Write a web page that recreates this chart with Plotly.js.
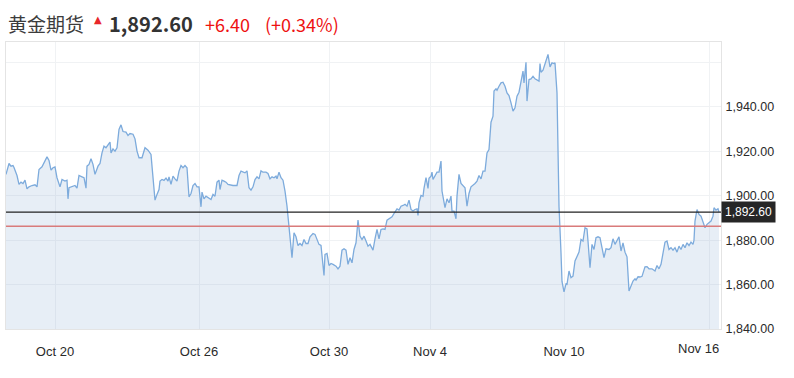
<!DOCTYPE html>
<html><head><meta charset="utf-8">
<script src="https://cdn.plot.ly/plotly-3.0.1.min.js"></script>
<style>html,body{margin:0;padding:0;background:#fff;}#chart{width:794px;height:378px;}</style>
</head><body><div id="chart"></div>
<script>
// time index of each sample (intraday bars, weekends removed)
const tIdx = [0,3,5,7,8,11,13,15,17,19,21,23,26,29,31,33,36,39,41,43,45,47,49,51,54,56,59,61,62,63,66,69,71,73,76,78,80,81,83,85,87,89,92,94,96,98,100,102,104,105,107,109,111,113,115,117,120,122,124,127,129,131,133,136,139,142,145,146,148,149,151,153,154,156,158,160,162,163,165,167,169,171,173,175,177,179,181,182,183,185,187,189,191,193,195,196,198,200,202,205,207,209,211,213,214,216,218,220,222,225,227,231,233,235,237,239,241,243,245,247,249,251,253,255,257,260,262,264,266,268,270,271,273,275,277,279,281,283,285,286,288,290,292,294,296,298,300,302,304,307,309,311,313,315,317,318,319,321,323,325,327,330,332,334,336,338,340,342,344,346,348,350,352,354,356,358,360,362,364,367,369,371,373,375,377,379,381,383,386,388,391,393,395,397,399,401,403,405,407,409,411,412,413,415,417,418,420,422,423,425,426,427,429,431,433,435,436,437,439,441,443,445,446,448,450,451,453,455,457,459,461,463,465,467,469,471,473,475,476,477,479,481,483,484,485,487,488,490,491,493,495,497,499,501,503,505,507,509,511,513,515,517,518,520,521,523,525,527,529,531,533,534,535,537,539,541,542,544,546,548,549,551,552,553,555,556,558,560,561,563,565,567,569,571,573,575,577,579,581,582,584,586,588,590,592,594,596,598,600,603,605,607,609,611,613,615,617,619,621,623,625,627,629,630,632,634,636,639,641,643,646,649,651,653,655,657,659,661,663,665,667,669,671,673,675,677,679,681,683,685,687,688,689,691,693,695,697,699,701,703,705,707,708,710,712,713];
const price = [1909.6,1914.5,1913.3,1913.6,1912.7,1909.1,1905.1,1906.1,1905.5,1907.0,1903.1,1904.0,1904.6,1904.9,1904.0,1911.8,1913.0,1915.6,1917.5,1915.9,1911.5,1912.6,1913.0,1908.1,1904.0,1907.3,1906.6,1907.0,1898.6,1903.6,1904.0,1904.6,1903.4,1909.1,1908.5,1908.1,1903.4,1913.3,1914.1,1916.6,1914.1,1909.6,1913.3,1914.5,1919.3,1922.3,1921.6,1922.6,1924.1,1919.3,1921.1,1920.1,1921.6,1929.8,1931.9,1928.9,1928.6,1927.1,1928.0,1927.7,1925.6,1920.1,1917.1,1917.1,1921.6,1920.5,1918.6,1913.3,1902.8,1898.0,1900.6,1902.8,1906.6,1907.3,1906.9,1907.9,1906.6,1908.5,1905.1,1908.8,1907.6,1906.6,1911.1,1913.6,1912.6,1913.6,1912.6,1904.3,1899.5,1901.0,1904.6,1905.5,1904.0,1904.0,1895.0,1901.6,1898.6,1899.8,1899.1,1898.3,1900.6,1899.8,1906.1,1907.0,1902.8,1907.0,1906.6,1906.1,1905.1,1904.6,1904.6,1904.6,1909.1,1911.1,1910.6,1910.3,1911.2,1903.6,1902.5,1904.0,1907.3,1908.5,1907.6,1911.2,1910.6,1910.6,1910.0,1907.6,1908.5,1908.1,1908.8,1907.6,1910.6,1908.1,1907.0,1902.1,1895.3,1886.6,1878.1,1872.1,1883.3,1881.5,1877.6,1878.5,1877.6,1880.3,1878.5,1878.5,1881.5,1883.0,1882.6,1880.3,1878.1,1877.6,1870.1,1864.1,1873.6,1874.0,1868.6,1869.5,1869.1,1868.3,1867.1,1868.3,1875.5,1876.1,1875.5,1869.1,1872.1,1869.8,1875.8,1878.8,1889.0,1881.8,1880.3,1881.8,1879.6,1877.3,1878.1,1875.5,1880.6,1884.8,1880.6,1884.8,1885.1,1884.8,1889.0,1889.6,1890.5,1892.0,1894.1,1893.5,1895.3,1895.6,1896.1,1895.3,1898.0,1893.8,1893.1,1893.8,1894.1,1891.1,1896.8,1900.1,1899.7,1903.3,1908.2,1903.3,1907.8,1908.8,1910.6,1907.3,1908.8,1910.6,1910.6,1915.6,1902.1,1899.8,1894.6,1898.6,1896.8,1899.8,1893.1,1893.1,1889.6,1899.8,1909.6,1905.5,1904.3,1903.6,1895.3,1901.0,1904.0,1904.6,1905.5,1906.6,1909.1,1907.6,1909.1,1911.1,1911.1,1919.3,1920.8,1928.3,1933.1,1935.8,1947.1,1948.1,1947.5,1949.3,1950.8,1951.1,1949.3,1946.3,1945.1,1941.8,1938.1,1939.6,1944.8,1946.6,1951.6,1956.1,1950.8,1960.1,1942.6,1952.3,1952.6,1953.8,1952.6,1952.0,1951.6,1959.5,1955.6,1956.5,1959.5,1963.1,1963.6,1958.0,1959.8,1959.5,1959.8,1946.3,1919.3,1895.3,1874.3,1861.4,1856.7,1860.3,1860.1,1866.1,1863.1,1863.8,1870.6,1872.8,1874.6,1880.3,1879.6,1885.6,1885.1,1879.6,1867.6,1878.1,1875.8,1881.1,1881.5,1881.1,1875.8,1872.1,1876.1,1875.8,1876.6,1880.6,1878.1,1880.0,1881.5,1875.1,1878.8,1874.6,1872.5,1857.1,1859.3,1861.6,1862.6,1862.0,1863.5,1863.4,1863.7,1868.0,1868.1,1867.1,1867.1,1866.1,1868.6,1867.1,1869.1,1873.6,1879.1,1879.6,1875.8,1876.6,1875.5,1876.6,1874.6,1877.3,1875.8,1878.1,1876.6,1878.8,1877.6,1879.1,1878.1,1880.0,1888.6,1893.8,1891.6,1890.8,1888.1,1885.6,1887.1,1888.1,1888.6,1890.8,1894.6,1893.5,1894.1,1892.6];

const dateTickIdx = [49,193,323,424,558,703];
const dateTickText = ['Oct 20','Oct 26','Oct 30','Nov 4','Nov 10','Nov 16'];
const priceTicks = [1840,1860,1880,1900,1920,1940,1960];
const priceTickText = ['1,840.00','1,860.00','1,880.00','1,900.00','1,920.00','1,940.00',''];

const titleName = '黄金期货';
const lastPrice = 1892.60;
const change = 6.40;
const changePct = 0.34;
const prevClose = lastPrice - change;

const fmt = v => v.toLocaleString('en-US',{minimumFractionDigits:2,maximumFractionDigits:2});

const trace = {
  x: tIdx, y: price, type:'scatter', mode:'lines',
  line:{color:'#7dabdc', width:1.3},
  fill:'tozeroy', fillcolor:'rgba(125,163,205,0.19)',
  hoverinfo:'skip'
};

const axisFont = {family:'Liberation Sans, Arial, sans-serif', size:12.5, color:'#2a2a2a'};

const layout = {
  width:794, height:378,
  margin:{l:6, r:73, t:42, b:49},
  paper_bgcolor:'#fff', plot_bgcolor:'#fff',
  showlegend:false,
  xaxis:{
    range:[0,715], tickmode:'array', tickvals:dateTickIdx,
    ticktext:dateTickText.map((t,i)=> i===dateTickText.length-1 ? '' : t),
    showgrid:true, gridcolor:'#f0f2f4', gridwidth:1,
    zeroline:false, showline:true, mirror:true, linecolor:'#e4e4e4', linewidth:1,
    ticks:'', ticklabelstandoff:10,
    tickfont:{family:'Liberation Sans, Arial, sans-serif', size:13, color:'#2a2a2a'}
  },
  yaxis:{
    side:'right', range:[1840,1969.2], tickmode:'array', tickvals:priceTicks, ticktext:priceTickText,
    showgrid:true, gridcolor:'#f0f2f4', gridwidth:1,
    zeroline:false, showline:true, mirror:true, linecolor:'#e4e4e4', linewidth:1,
    ticks:'', ticklabelstandoff:1,
    tickfont:axisFont
  },
  shapes:[
    {type:'line', xref:'paper', x0:0, x1:1, yref:'y', y0:lastPrice, y1:lastPrice, line:{color:'#222', width:1.4}, layer:'above'},
    {type:'line', xref:'paper', x0:0, x1:1, yref:'y', y0:prevClose, y1:prevClose, line:{color:'#d97b7b', width:1.5}, layer:'above'}
  ],
  annotations:[
    {xref:'x', yref:'paper', x:dateTickIdx[5]-11, y:0, yanchor:'top', yshift:-10, xanchor:'center', showarrow:false,
     text:dateTickText[5], font:{family:'Liberation Sans, Arial, sans-serif', size:13, color:'#2a2a2a'}},
    {xref:'paper', yref:'y', x:1, y:lastPrice, xanchor:'left', yanchor:'middle', showarrow:false,
     text:fmt(lastPrice), bgcolor:'#262626', borderpad:3, font:{family:'Liberation Sans, Arial, sans-serif', size:12, color:'#fff'}},
    {xref:'paper', yref:'paper', x:0.0, y:1.063, xanchor:'left', yanchor:'middle', showarrow:false,
     text:titleName, font:{family:'Noto Sans CJK SC, sans-serif', size:19, color:'#3c3c3c'}},
    {xref:'paper', yref:'paper', x:0.128, y:1.079, xanchor:'center', yanchor:'middle', showarrow:false,
     text:'▲', font:{family:'DejaVu Sans, sans-serif', size:10, color:'#e8262a'}},
    {xref:'paper', yref:'paper', x:0.1415, y:1.063, xanchor:'left', yanchor:'middle', showarrow:false,
     text:'<b>'+fmt(lastPrice)+'</b>', font:{family:'Noto Sans CJK SC, sans-serif', size:20, color:'#333'}},
    {xref:'paper', yref:'paper', x:0.276, y:1.063, xanchor:'left', yanchor:'middle', showarrow:false,
     text:'+'+change.toFixed(2), font:{family:'Noto Sans CJK SC, sans-serif', size:18, color:'#ee1111'}},
    {xref:'paper', yref:'paper', x:0.36, y:1.063, xanchor:'left', yanchor:'middle', showarrow:false,
     text:'(+'+changePct.toFixed(2)+'%)', font:{family:'Noto Sans CJK SC, sans-serif', size:18, color:'#ee1111'}}
  ]
};

Plotly.newPlot('chart', [trace], layout, {displayModeBar:false, staticPlot:true});
</script>
</body></html>
